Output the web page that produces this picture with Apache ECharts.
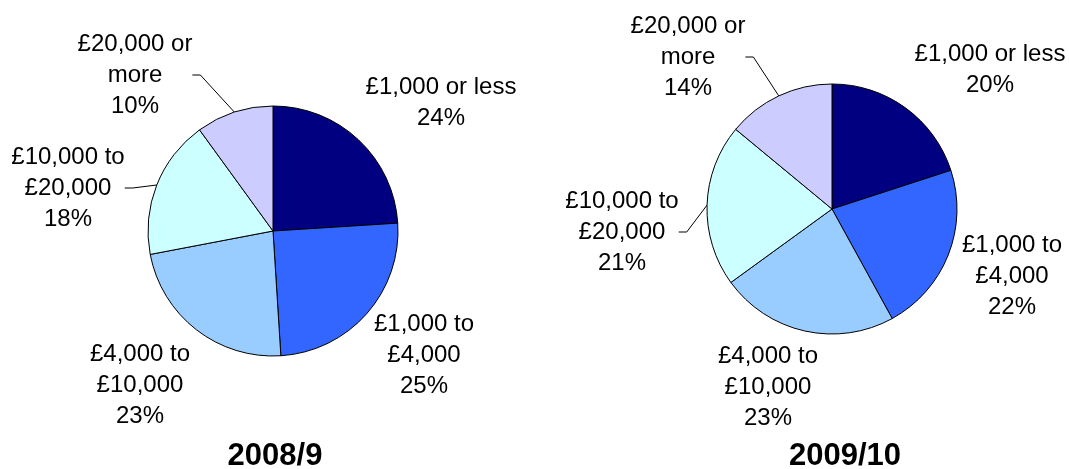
<!DOCTYPE html>
<html>
<head>
<meta charset="utf-8">
<script src="https://cdn.jsdelivr.net/npm/echarts@6/dist/echarts.min.js"></script>
<style>
html,body{margin:0;padding:0;background:#fff;}
#chart{width:1069px;height:469px;}
</style>
</head>
<body>
<div id="chart"></div>
<script>
// ---- data ----
const categories = ['£1,000 or less', '£1,000 to\n£4,000', '£4,000 to\n£10,000', '£10,000 to\n£20,000', '£20,000 or\nmore'];
const years = ['2008/9', '2009/10'];
const values2008 = [24, 25, 23, 18, 10];
const values2009 = [20, 22, 23, 21, 14];

// ---- style / layout ----
const colors = ['#000080', '#3366FF', '#99CCFF', '#CCFFFF', '#CCCCFF'];
const leaderIdx = [3, 4];
const FONT = '"Liberation Sans", Arial, sans-serif';
const pies = [
  { values: values2008, center: [273, 231], titleX: 270,
    labelPos: [[441, 103], [424, 355], [140, 385], [68, 188], [135, 75]] },
  { values: values2009, center: [832, 209], titleX: 840,
    labelPos: [[990, 70], [1012, 276], [768, 387], [622, 232], [688, 57]] }
];

const chart = echarts.init(document.getElementById('chart'), null, { renderer: 'canvas' });

const series = pies.map((p) => ({
  type: 'pie',
  center: p.center,
  radius: 125,
  startAngle: 90,
  clockwise: true,
  avoidLabelOverlap: false,
  animation: false,
  silent: true,
  itemStyle: { borderColor: '#000', borderWidth: 1 },
  label: {
    show: true,
    position: 'outside',
    formatter: (d) => d.name + '\n' + d.value + '%',
    fontFamily: FONT,
    fontSize: 24,
    lineHeight: 31,
    color: '#000',
    align: 'center'
  },
  labelLine: { show: false, length: 5, length2: 8, lineStyle: { color: '#000', width: 1 } },
  labelLayout: (params) => {
    const pos = p.labelPos[params.dataIndex];
    return { x: pos[0], y: pos[1], align: 'center', verticalAlign: 'middle' };
  },
  data: categories.map((c, i) => ({
    name: c,
    value: p.values[i],
    itemStyle: { color: colors[i] },
    labelLine: { show: leaderIdx.indexOf(i) >= 0 }
  }))
}));

chart.setOption({
  backgroundColor: '#fff',
  animation: false,
  title: pies.map((p, k) => ({
    text: years[k],
    left: p.titleX,
    top: 436,
    textAlign: 'center',
    textStyle: { fontFamily: FONT, fontSize: 31, fontWeight: 'bold', color: '#000' }
  })),
  series: series
});
</script>
</body>
</html>
